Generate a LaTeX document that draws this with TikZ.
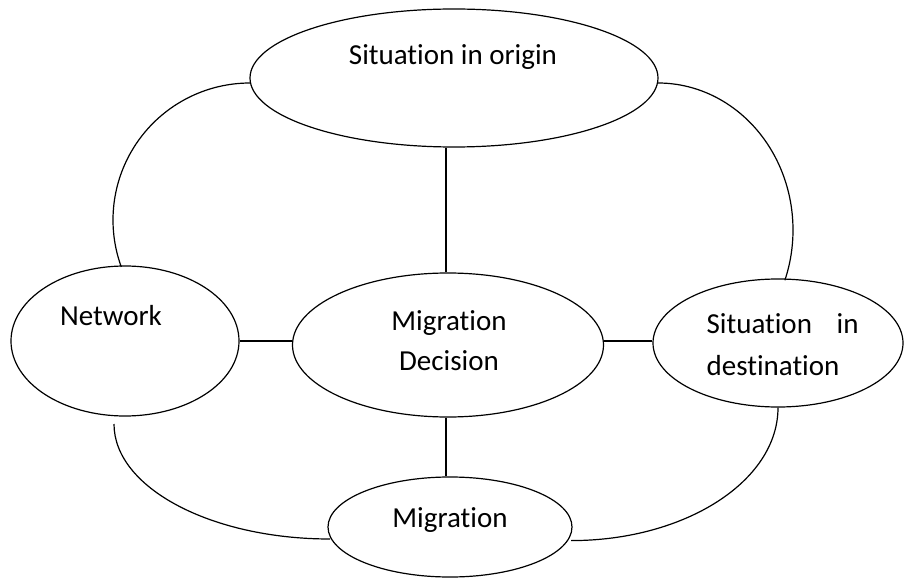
\documentclass[tikz,border=0pt]{standalone}
\usepackage{fontspec}
\setmainfont{Carlito}[Ligatures=NoCommon]
\usetikzlibrary{shapes.geometric}
\begin{document}
\begin{tikzpicture}[x=1pt,y=-1pt,
  line width=1.2pt,
  oval/.style={draw,ellipse,inner sep=0pt},
  lbl/.style={inner sep=0pt,font=\fontsize{29}{40}\selectfont}]
\useasboundingbox (0,0) rectangle (905,580);
% ellipses
\node[oval,minimum width=408pt,minimum height=138pt] (top) at (454,78) {};
\node[oval,minimum width=228pt,minimum height=150pt] (net) at (125,341) {};
\node[oval,minimum width=311pt,minimum height=144pt] (md) at (448,345) {};
\node[oval,minimum width=250pt,minimum height=128pt] (sd) at (778,343) {};
\node[oval,minimum width=244pt,minimum height=100pt] (mig) at (450,527) {};
% texts
\node[lbl,anchor=base] (ttop) at (453,65) {Situation in origin};
\node[lbl,anchor=base] (tnet) at (111,325) {Network};
\node[lbl,anchor=base] (tmd1) at (449,330) {Migration};
\node[lbl,anchor=base] (tmd2) at (449,370) {Decision};
\node[lbl,anchor=base west] (tsd1) at (706,333) {\makebox[152pt][l]{Situation\hfill in}};
\node[lbl,anchor=base west] (tsd2) at (706,375) {destination};
\node[lbl,anchor=base] (tmig) at (450,527) {Migration};
% straight connectors
\coordinate (vx) at (446,0);
\draw (vx |- top.south) -- (vx |- md.north);
\draw (vx |- md.south) -- (vx |- mig.north);
\draw (net.east) -- (net.east -| md.west);
\draw (md.east |- net.east) -- (sd.west |- net.east);
% curved connectors
\coordinate (tl) at (250,83);
\coordinate (tr) at (658,83);
\coordinate (nl) at (114,424);
\draw (tl) arc[start angle=90,end angle=200,radius=137pt];
\draw (tr) arc[start angle=90,end angle=-20,x radius=135pt,y radius=147pt];
\draw (nl) arc[start angle=180,end angle=270,x radius=216pt,y radius=115pt];
\draw (sd.south) arc[start angle=0,end angle=-90,x radius=207pt,y radius=133pt];
\end{tikzpicture}
\end{document}
